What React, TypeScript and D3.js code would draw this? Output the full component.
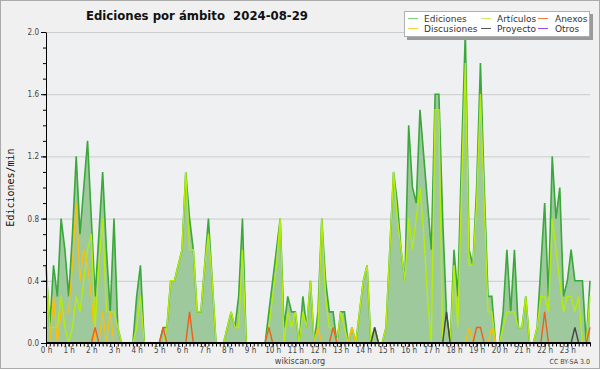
import React, { useRef, useEffect } from 'react';
import * as d3 from 'd3';

// 10-minute steps, 00:00 .. 24:00 (145 points), edits per minute
const ediciones = [
  0.5, 0.1, 0.5, 0.3, 0.8, 0.6, 0.3, 0.7, 1.2, 0.7, 1.0, 1.3,
  0.8, 0.3, 0.7, 1.1, 0.6, 0.2, 0.8, 0.1, 0, 0, 0, 0,
  0.3, 0.5, 0, 0, 0, 0, 0, 0.1, 0.1, 0.4, 0.4, 0.5,
  0.6, 1.1, 0.8, 0.6, 0.2, 0.2, 0.5, 0.8, 0.4, 0, 0, 0,
  0.1, 0.2, 0.1, 0.3, 0.8, 0, 0, 0, 0, 0, 0, 0.2,
  0.4, 0.6, 0.8, 0.1, 0.3, 0.2, 0.2, 0, 0.3, 0.1, 0.4, 0,
  0.2, 0.8, 0.4, 0.2, 0.2, 0, 0.2, 0.2, 0, 0.1, 0, 0.2,
  0.4, 0.5, 0, 0.1, 0, 0, 0.1, 0.6, 1.1, 0.9, 0.6, 0.4,
  1.4, 1.0, 0.9, 1.5, 1.2, 0.9, 0.6, 1.6, 1.6, 0.8, 0.2, 0,
  0.6, 0.3, 1.2, 2.0, 0.6, 0.5, 1.0, 1.8, 1.0, 0.3, 0.3, 0,
  0, 0.2, 0.6, 0.2, 0.6, 0.1, 0.1, 0.3, 0, 0, 0.1, 0.5,
  0.9, 0.3, 1.2, 0.8, 1.0, 0.3, 0.4, 0.6, 0.4, 0.4, 0.4, 0,
  0.4,
];

const articulos = [
  0.5, 0.1, 0.1, 0.1, 0.3, 0.1, 0, 0.1, 0.3, 0.2, 0.4, 0.6,
  0.7, 0.1, 0.5, 0.8, 0.2, 0.2, 0.2, 0.1, 0, 0, 0, 0,
  0.1, 0.3, 0, 0, 0, 0, 0, 0, 0.1, 0.4, 0.4, 0.5,
  0.6, 1.1, 0.6, 0.6, 0.2, 0.2, 0.5, 0.7, 0.4, 0, 0, 0,
  0.1, 0.2, 0.1, 0.1, 0.6, 0, 0, 0, 0, 0, 0, 0.1,
  0.3, 0.5, 0.8, 0, 0.2, 0.1, 0.2, 0, 0.2, 0.1, 0.4, 0,
  0.1, 0.8, 0.3, 0.1, 0.1, 0, 0.2, 0.1, 0, 0.1, 0, 0.2,
  0.4, 0.5, 0, 0.1, 0, 0, 0.1, 0.6, 1.1, 0.8, 0.6, 0.4,
  0.8, 0.6, 0.8, 1.0, 0.7, 0.3, 0, 1.5, 1.5, 0, 0, 0,
  0.5, 0.1, 1.0, 1.8, 0.5, 0.5, 0.9, 1.6, 0.9, 0.2, 0.2, 0,
  0, 0.1, 0.2, 0.2, 0.2, 0.1, 0.1, 0.3, 0, 0, 0.1, 0.3,
  0.3, 0.2, 0.8, 0.6, 0.4, 0.2, 0.3, 0.3, 0.2, 0.3, 0, 0,
  0.3,
];

const discusiones = [
  0, 0, 0.3, 0, 0.2, 0.2, 0.2, 0.5, 0.9, 0.4, 0.6, 0.5,
  0.3, 0, 0, 0.2, 0, 0.2, 0, 0, 0, 0, 0, 0,
  0, 0, 0, 0, 0, 0, 0, 0, 0, 0, 0, 0,
  0, 0, 0, 0, 0, 0, 0, 0, 0, 0, 0, 0,
  0, 0, 0, 0, 0, 0, 0, 0, 0, 0, 0, 0,
  0, 0, 0, 0, 0, 0, 0, 0, 0, 0, 0, 0,
  0.1, 0, 0, 0, 0, 0, 0, 0, 0, 0.1, 0, 0,
  0, 0, 0, 0, 0, 0, 0, 0, 0, 0, 0, 0,
  0, 0, 0, 0, 0, 0, 0, 0, 0, 0, 0, 0,
  0, 0, 0, 0, 0.1, 0, 0, 0, 0, 0, 0.1, 0,
  0, 0, 0, 0, 0, 0, 0, 0, 0, 0, 0, 0,
  0, 0, 0, 0, 0, 0, 0, 0, 0, 0, 0, 0,
  0,
];

const anexos = [
  0, 0, 0, 0, 0, 0, 0, 0, 0, 0, 0, 0,
  0, 0.1, 0, 0, 0, 0, 0, 0, 0, 0, 0, 0,
  0, 0, 0, 0, 0, 0, 0, 0.1, 0, 0, 0, 0,
  0, 0, 0.2, 0, 0, 0, 0, 0, 0, 0, 0, 0,
  0, 0, 0, 0, 0, 0, 0, 0, 0, 0, 0, 0.1,
  0, 0, 0, 0, 0, 0, 0, 0, 0, 0, 0, 0,
  0, 0, 0, 0, 0.1, 0, 0, 0, 0, 0, 0, 0,
  0, 0, 0, 0, 0, 0, 0, 0, 0, 0, 0, 0,
  0, 0, 0, 0, 0, 0, 0, 0, 0, 0, 0, 0,
  0, 0, 0, 0, 0, 0, 0.1, 0.1, 0, 0, 0, 0,
  0, 0, 0, 0, 0, 0, 0, 0, 0, 0, 0, 0,
  0.2, 0, 0, 0, 0, 0, 0, 0, 0, 0, 0, 0,
  0.1,
];

const proyecto = [
  0, 0, 0, 0, 0, 0, 0, 0, 0, 0, 0, 0,
  0, 0, 0, 0, 0, 0, 0, 0, 0, 0, 0, 0,
  0, 0, 0, 0, 0, 0, 0, 0, 0, 0, 0, 0,
  0, 0, 0, 0, 0, 0, 0, 0, 0, 0, 0, 0,
  0, 0, 0, 0, 0, 0, 0, 0, 0, 0, 0, 0,
  0, 0, 0, 0, 0, 0, 0, 0, 0, 0, 0, 0,
  0, 0, 0, 0, 0, 0, 0, 0, 0, 0, 0, 0,
  0, 0, 0, 0.1, 0, 0, 0, 0, 0, 0, 0, 0,
  0, 0, 0, 0, 0, 0, 0, 0, 0, 0, 0.2, 0,
  0, 0, 0, 0, 0, 0, 0, 0, 0, 0, 0, 0,
  0, 0, 0, 0, 0, 0, 0, 0, 0, 0, 0, 0,
  0, 0, 0, 0, 0, 0, 0, 0, 0.1, 0, 0, 0,
  0,
];

const otros = [
  0, 0, 0, 0, 0, 0, 0, 0, 0, 0, 0, 0,
  0, 0, 0, 0, 0, 0, 0, 0, 0, 0, 0, 0,
  0, 0, 0, 0, 0, 0, 0, 0, 0, 0, 0, 0,
  0, 0, 0, 0, 0, 0, 0, 0, 0, 0, 0, 0,
  0, 0, 0, 0, 0, 0, 0, 0, 0, 0, 0, 0,
  0, 0, 0, 0, 0, 0, 0, 0, 0, 0, 0, 0,
  0, 0, 0, 0, 0, 0, 0, 0, 0, 0, 0, 0,
  0, 0, 0, 0, 0, 0, 0, 0, 0, 0, 0, 0,
  0, 0, 0, 0, 0, 0, 0, 0, 0, 0, 0, 0,
  0, 0, 0, 0, 0, 0, 0, 0, 0, 0, 0, 0,
  0, 0, 0, 0, 0, 0, 0, 0, 0, 0, 0, 0,
  0, 0, 0, 0, 0, 0, 0, 0, 0, 0, 0, 0,
  0,
];

const hourLabels = [
  '0 h', '1 h', '2 h', '3 h', '4 h', '5 h', '6 h', '7 h', '8 h', '9 h', '10 h', '11 h',
  '12 h', '13 h', '14 h', '15 h', '16 h', '17 h', '18 h', '19 h', '20 h', '21 h', '22 h', '23 h',
];
const yTicks = [0, 0.4, 0.8, 1.2, 1.6, 2.0];

const series = [
  { name: 'Ediciones', values: ediciones, color: '#3aa83a', legend: '#80d080' },
  { name: 'Artículos', values: articulos, color: '#b6ec0c', legend: '#c8f060' },
  { name: 'Discusiones', values: discusiones, color: '#f7bf10', legend: '#ffd040' },
  { name: 'Anexos', values: anexos, color: '#ee5f1e', legend: '#f07a48' },
  { name: 'Proyecto', values: proyecto, color: '#444444', legend: '#555555' },
  { name: 'Otros', values: otros, color: '#9040f0', legend: '#9a4af0' },
];
// legend columns as in the original: [Ediciones, Discusiones], [Artículos, Proyecto], [Anexos, Otros]
const legendOrder = ['Ediciones', 'Discusiones', 'Artículos', 'Proyecto', 'Anexos', 'Otros'];

const App: React.FC = () => {
  const ref = useRef<SVGSVGElement | null>(null);

  useEffect(() => {
    if (!ref.current) return;
    const svg = d3.select(ref.current);
    svg.selectAll('*').remove();

    const width = 600;
    const height = 370;
    const margin = { top: 32, right: 10, bottom: 27, left: 46 };
    const tickFont = 'DejaVu Sans Condensed, DejaVu Sans, sans-serif';

    svg.attr('width', width).attr('height', height);

    svg.append('rect')
      .attr('x', 0.5).attr('y', 0.5)
      .attr('width', width - 1).attr('height', height - 2)
      .attr('fill', '#f0f0f0')
      .attr('stroke', '#aaaaaa');

    const x = d3.scaleLinear().domain([0, ediciones.length - 1]).range([margin.left, width - margin.right]);
    const y = d3.scaleLinear().domain([0, 2]).range([height - margin.bottom, margin.top]);

    // plot background
    svg.append('rect')
      .attr('x', x(0)).attr('y', y(2))
      .attr('width', x(ediciones.length - 1) - x(0))
      .attr('height', y(0) - y(2))
      .attr('fill', '#eff0f2');

    // grid
    svg.append('g')
      .selectAll('line')
      .data(yTicks.slice(1))
      .join('line')
      .attr('x1', x(0)).attr('x2', x(ediciones.length - 1))
      .attr('y1', d => y(d) + 0.5).attr('y2', d => y(d) + 0.5)
      .attr('stroke', '#cccccc');

    // area under total edits
    const area = d3.area<number>()
      .x((_, i) => x(i))
      .y0(y(0))
      .y1(d => y(d));
    svg.append('path')
      .datum(ediciones)
      .attr('fill', '#9dc99d')
      .attr('d', area);

    const line = d3.line<number>()
      .x((_, i) => x(i))
      .y(d => y(d));

    series.forEach(s => {
      svg.append('path')
        .datum(s.values)
        .attr('fill', 'none')
        .attr('stroke', s.color)
        .attr('stroke-width', s.name === 'Ediciones' ? 1.6 : 1.4)
        .attr('d', line);
    });

    // y axis
    const yMinor = svg.append('g')
      .attr('transform', `translate(${margin.left},0)`)
      .call(d3.axisLeft(y).tickValues(d3.range(0, 2.05, 0.1)).tickSize(3).tickSizeOuter(0).tickFormat(() => ''));
    yMinor.select('.domain').remove();
    yMinor.selectAll('line').attr('stroke', '#000');

    const yAxis = svg.append('g')
      .attr('transform', `translate(${margin.left},0)`)
      .call(d3.axisLeft(y).tickValues(yTicks).tickSize(5).tickSizeOuter(0).tickPadding(2).tickFormat(d3.format('.1f')));
    yAxis.select('.domain').attr('stroke', '#000');
    yAxis.selectAll('text')
      .attr('font-family', tickFont)
      .attr('font-size', 8)
      .attr('fill', '#444');

    // x axis (drawn over the zero-valued series so the baseline stays black)
    const xMinor = svg.append('g')
      .attr('transform', `translate(0,${height - margin.bottom - 0.5})`)
      .call(d3.axisBottom(x).tickValues(d3.range(0, ediciones.length, 1)).tickSize(4).tickSizeOuter(0).tickFormat(() => ''));
    xMinor.select('.domain').remove();
    xMinor.selectAll('line').attr('stroke', '#000');

    const xAxis = svg.append('g')
      .attr('transform', `translate(0,${height - margin.bottom - 0.5})`)
      .call(d3.axisBottom(x)
        .tickValues(hourLabels.map((_, i) => i * 6))
        .tickSize(4).tickSizeOuter(0).tickPadding(1)
        .tickFormat((_, i) => hourLabels[i]));
    xAxis.select('.domain').attr('stroke', '#000').attr('stroke-width', 2);
    xAxis.selectAll('text')
      .attr('font-family', tickFont)
      .attr('font-size', 8)
      .attr('fill', '#444');

    // title
    svg.append('text')
      .attr('x', 86).attr('y', 20)
      .attr('font-family', 'DejaVu Sans Condensed, DejaVu Sans, sans-serif')
      .attr('font-weight', 'bold')
      .attr('font-size', 13)
      .attr('fill', '#111')
      .style('white-space', 'pre')
      .text('Ediciones por ámbito  2024-08-29');

    // y label
    svg.append('text')
      .attr('transform', `translate(14,${(y(0) + y(2)) / 2}) rotate(-90)`)
      .attr('text-anchor', 'middle')
      .attr('font-family', 'DejaVu Sans Mono, monospace')
      .attr('font-size', 10)
      .attr('fill', '#111')
      .text('Ediciones/min');

    // footer
    svg.append('text')
      .attr('x', 300).attr('y', 364)
      .attr('text-anchor', 'middle')
      .attr('font-family', tickFont)
      .attr('font-size', 9)
      .attr('fill', '#444')
      .text('wikiscan.org');
    svg.append('text')
      .attr('x', 590).attr('y', 364)
      .attr('text-anchor', 'end')
      .attr('font-family', tickFont)
      .attr('font-size', 7)
      .attr('fill', '#444')
      .text('CC BY-SA 3.0');

    // legend
    const lg = svg.append('g');
    lg.append('rect')
      .attr('x', 407).attr('y', 14).attr('width', 186).attr('height', 26)
      .attr('fill', '#9a9a9a');
    lg.append('rect')
      .attr('x', 404.5).attr('y', 11.5).attr('width', 185).attr('height', 25)
      .attr('fill', '#ffffff')
      .attr('stroke', '#b0b0b0');
    const colX = [408, 481, 538];
    const colText = [424, 497, 555];
    const rowY = [18.5, 28.5];
    legendOrder.forEach((name, k) => {
      const s = series.find(d => d.name === name)!;
      const c = Math.floor(k / 2);
      const r = k % 2;
      lg.append('line')
        .attr('x1', colX[c]).attr('x2', colX[c] + 10)
        .attr('y1', rowY[r]).attr('y2', rowY[r])
        .attr('stroke', s.legend);
      lg.append('text')
        .attr('x', colText[c]).attr('y', rowY[r] + 3.5)
        .attr('font-family', 'DejaVu Sans, sans-serif')
        .attr('font-size', 9)
        .attr('fill', '#333')
        .text(name);
    });
  }, []);

  return (
    <svg
      ref={ref}
      style={{ position: 'absolute', left: 0, top: 0, display: 'block' }}
    ></svg>
  );
};

export default App;
